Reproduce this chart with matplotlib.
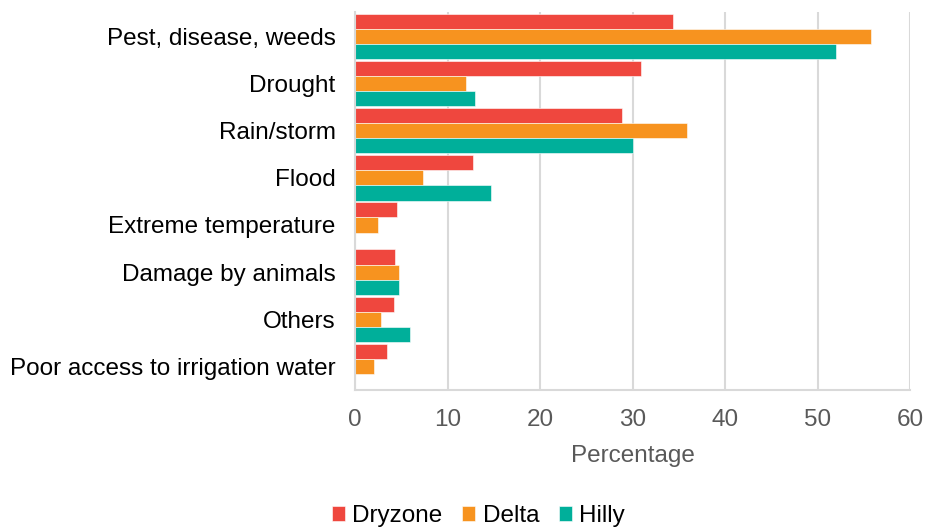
import matplotlib
matplotlib.use("Agg")
import matplotlib.pyplot as plt
import numpy as np

plt.rcParams['font.family'] = ['Liberation Sans', 'DejaVu Sans']

categories = ['Pest, disease, weeds', 'Drought', 'Rain/storm', 'Flood',
              'Extreme temperature', 'Damage by animals', 'Others',
              'Poor access to irrigation water']
dryzone = [34.4, 30.9, 28.8, 12.8, 4.5, 4.3, 4.2, 3.4]
delta = [55.8, 12.0, 35.9, 7.3, 2.5, 4.8, 2.8, 2.0]
hilly = [52.0, 13.0, 30.0, 14.7, 0, 4.7, 5.9, 0]
series = ['Dryzone', 'Delta', 'Hilly']
colors = ['#EF473E', '#F7931F', '#00AF9A']

fs = 17.5
fig = plt.figure(figsize=(9.27, 5.31), dpi=100)
ax = fig.add_axes([0.383, 0.266, 0.599, 0.711])

y = np.arange(len(categories))
h = 0.32
for i, (vals, name, c) in enumerate(zip([dryzone, delta, hilly], series, colors)):
    ax.barh(y + (i - 1) * h, vals, height=h, color=c, label=name,
            edgecolor='white', linewidth=0.4)

ax.set_yticks(y)
ax.set_yticklabels(categories, fontsize=fs, color='black')
ax.set_ylim(len(categories) - 0.5, -0.52)
ax.set_xlim(0, 60)
ax.set_xticks(range(0, 61, 10))
ax.tick_params(axis='x', labelsize=fs, labelcolor='#595959', length=0, pad=14)
ax.tick_params(axis='y', length=0, pad=14)
ax.set_xlabel('Percentage', fontsize=fs, color='#595959', labelpad=10)

ax.grid(axis='x', color='#D9D9D9', linewidth=1.5)
ax.set_axisbelow(True)
for s in ['top', 'right']:
    ax.spines[s].set_visible(False)
for s in ['left', 'bottom']:
    ax.spines[s].set_color('#D9D9D9')
    ax.spines[s].set_linewidth(1.5)

fig.legend(loc='center', bbox_to_anchor=(0.516, 0.028), ncol=3, frameon=False,
           fontsize=fs, handlelength=0.55, handleheight=0.55, handletextpad=0.3,
           columnspacing=0.8, borderpad=0.2)

fig.savefig('out.png', dpi=100)
